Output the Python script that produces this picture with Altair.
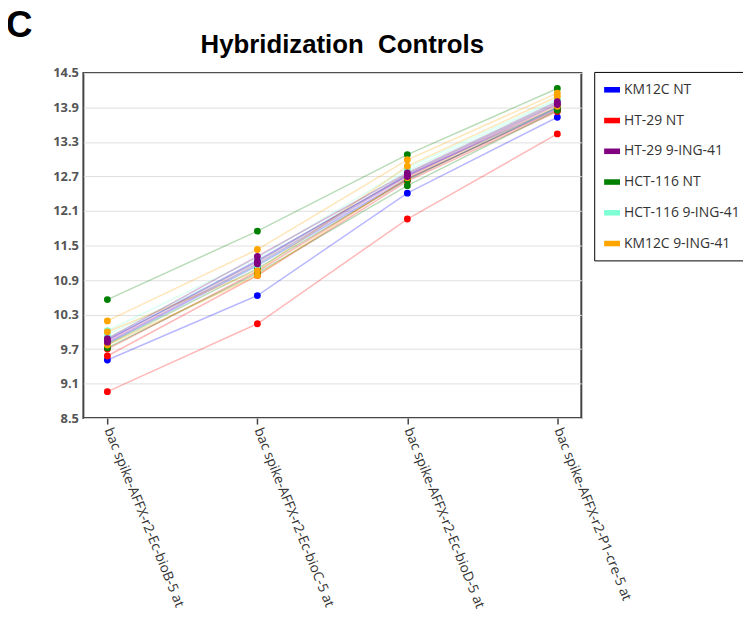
import altair as alt
import pandas as pd

categories = [
    "bac spike-AFFX-r2-Ec-bioB-5 at",
    "bac spike-AFFX-r2-Ec-bioC-5 at",
    "bac spike-AFFX-r2-Ec-bioD-5 at",
    "bac spike-AFFX-r2-P1-cre-5 at",
]

groups = ["KM12C NT", "HT-29 NT", "HT-29 9-ING-41", "HCT-116 NT", "HCT-116 9-ING-41", "KM12C 9-ING-41"]
colors = ["#0000FF", "#FF0000", "#800080", "#008000", "#7FFFD4", "#FFA500"]

# three replicate samples per group, values at the four controls
km12c_nt = [[9.51, 10.63, 12.41, 13.73], [9.86, 11.24, 12.72, 13.90], [9.80, 11.15, 12.66, 13.88]]
ht29_nt = [[8.96, 10.14, 11.96, 13.44], [9.58, 10.98, 12.62, 13.83], [9.70, 11.05, 12.66, 13.86]]
hct116_nt = [[10.56, 11.75, 13.08, 14.23], [9.72, 11.02, 12.54, 13.85], [9.78, 11.10, 12.64, 13.90]]
hct116_ing = [[10.02, 11.28, 12.85, 14.05], [9.95, 11.20, 12.80, 14.02], [9.90, 11.15, 12.75, 13.98]]
km12c_ing = [[10.19, 11.43, 12.99, 14.15], [10.00, 11.06, 12.88, 14.09], [9.77, 10.98, 12.68, 13.92]]
ht29_ing = [[9.88, 11.31, 12.76, 14.00], [9.82, 11.18, 12.70, 13.95], [9.85, 11.22, 12.73, 13.97]]

y_ticks = [8.5, 9.1, 9.7, 10.3, 10.9, 11.5, 12.1, 12.7, 13.3, 13.9, 14.5]

panel_letter = ["C"]
chart_title = ["Hybridization\u00a0 Controls"]

# drawing order (later groups drawn on top)
draw_groups = ["KM12C NT", "HT-29 NT", "HCT-116 NT", "HCT-116 9-ING-41", "KM12C 9-ING-41", "HT-29 9-ING-41"]
series_by_group = [km12c_nt, ht29_nt, hct116_nt, hct116_ing, km12c_ing, ht29_ing]
rows = []
order = 0
for g, reps in zip(draw_groups, series_by_group):
    for i, vals in enumerate(reps):
        for c, v in zip(categories, vals):
            rows.append({"group": g, "sample": f"{g} {i+1}", "control": c, "value": v, "ord": order})
            order += 1
df = pd.DataFrame(rows)

color_scale = alt.Scale(domain=groups, range=colors)
x_enc = alt.X("control:N", sort=categories, title=None,
              scale=alt.Scale(type="point", padding=0.16),
              axis=alt.Axis(domain=False, ticks=True, tickColor="#444", tickSize=6, tickWidth=1.5,
                            labelAngle=68, labelAlign="left", labelBaseline="middle",
                            labelFont="Open Sans", labelFontSize=13.8, labelColor="#333",
                            labelLimit=400, labelPadding=4, grid=False))
y_enc = alt.Y("value:Q", title=None,
              scale=alt.Scale(domain=[8.5, 14.5], nice=False, zero=False),
              axis=alt.Axis(values=y_ticks, format=".1f", domain=False, ticks=False,
                            grid=True, gridColor="#e0e0e0", gridWidth=1,
                            labelFont="Open Sans", labelFontSize=13, labelFontWeight="bold",
                            labelColor="#555", labelPadding=5))

legend = alt.Legend(title=None, orient="none", legendX=515, legendY=-1,
                    strokeColor="black", fillColor="white", padding=10,
                    labelFont="Open Sans", labelFontSize=14, labelColor="#333",
                    rowPadding=16, symbolType="M-1,-0.35H1V0.35H-1Z",
                    symbolSize=256, symbolStrokeWidth=0, symbolOpacity=1, labelOffset=4)

base = alt.Chart(df)
lines = base.mark_line(strokeWidth=1.5, opacity=0.28).encode(
    x=x_enc, y=y_enc,
    color=alt.Color("group:N", scale=color_scale, sort=groups, legend=legend),
    detail="sample:N",
)
points = base.mark_point(filled=True, size=48, opacity=1).encode(
    x=x_enc, y=y_enc,
    color=alt.Color("group:N", scale=color_scale, sort=groups, legend=legend),
    order="ord:Q",
)

letter = alt.Chart(pd.DataFrame({"t": panel_letter})).mark_text(
    font="Liberation Sans", fontWeight="bold", fontSize=37,
    align="left", baseline="alphabetic", color="black").encode(
    text="t:N", x=alt.value(-78), y=alt.value(-36))

title = alt.Chart(pd.DataFrame({"t": chart_title})).mark_text(
    font="Liberation Sans", fontWeight="bold", fontSize=26,
    align="center", baseline="alphabetic", color="black").encode(
    text="t:N", x=alt.value(261), y=alt.value(-20))

chart = alt.layer(lines, points, letter, title).properties(
    width=502, height=348,
    background="white",
    autosize=alt.AutoSizeParams(type="none"),
    padding={"left": 76, "top": 63, "right": 163, "bottom": 191},
).configure_view(stroke="#444", strokeWidth=2)

chart.save("out.html", embed_options={"renderer": "svg", "actions": False})
